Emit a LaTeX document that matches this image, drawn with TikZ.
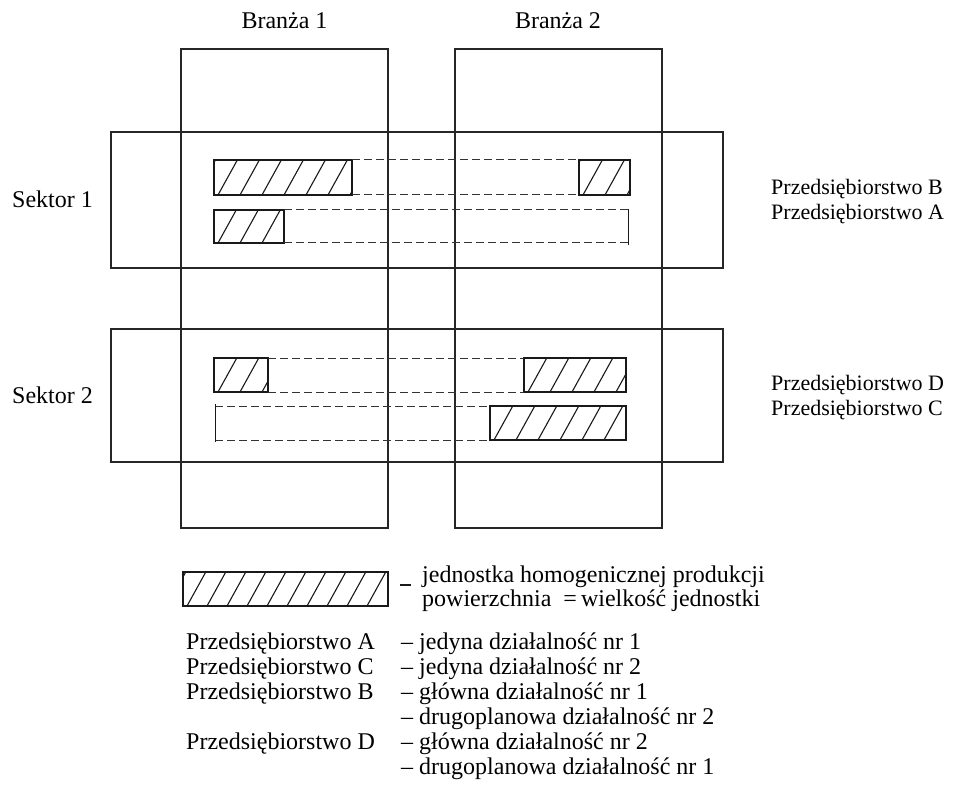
\documentclass[tikz,border=0pt]{standalone}
\usepackage{fontspec}
\setmainfont{Liberation Serif}
\begin{document}
\begin{tikzpicture}[x=1pt,y=-1pt,
  frame/.style={draw=black!85, line width=1.1pt},
  boxline/.style={draw=black!90, line width=1.3pt},
  hatchline/.style={draw=black!90, line width=1.1pt},
  dashline/.style={draw=black!80, line width=1pt, dash pattern=on 8pt off 4pt},
  lbl/.style={inner sep=0pt, font=\fontsize{24}{28}\selectfont, text=black},
  rlbl/.style={inner sep=0pt, font=\fontsize{22}{26}\selectfont, text=black},
]
\useasboundingbox (0,0) rectangle (955,791);
\newcommand{\hatchrect}[5]{%
  \begin{scope}
    \clip (#1,#2) rectangle (#3,#4);
    \foreach \k in {-1,...,12} {\draw[hatchline] ({#1+4+\k*#5},#4) -- ++(21,-38);}
  \end{scope}
  \draw[boxline] (#1,#2) rectangle (#3,#4);}

% columns and rows
\draw[frame] (181,49) rectangle (388,528);
\draw[frame] (455,49) rectangle (662,528);
\draw[frame] (111,132) rectangle (723,268);
\draw[frame] (111,329) rectangle (723,462);

% headings
\node[lbl, anchor=base] (b1) at (284.5,29) {Branża 1};
\node[lbl, anchor=base] (b2) at (558,29) {Branża 2};
\node[lbl, anchor=base west] (s1) at (12,208) {Sektor 1};
\node[lbl, anchor=base west] (s2) at (12,403) {Sektor 2};
\node[rlbl, anchor=base west] (pB) at (771,195) {Przedsiębiorstwo B};
\node[rlbl, anchor=base west] (pA) at (771,220) {Przedsiębiorstwo A};
\node[rlbl, anchor=base west] (pD) at (771,390) {Przedsiębiorstwo D};
\node[rlbl, anchor=base west] (pC) at (771,415) {Przedsiębiorstwo C};

% Sektor 1 : B
\hatchrect{214}{160}{352}{195}{22}
\hatchrect{579}{160}{630}{195}{22}
\draw[dashline] (352,160) -- (579,160);
\draw[dashline] (352,195) -- (579,195);
% Sektor 1 : A
\hatchrect{214}{210}{284}{243}{22}
\draw[dashline] (284,210) -- (628,210);
\draw[dashline] (284,243) -- (628,243);
\draw[boxline, line width=1pt] (628,209) -- (628,245);

% Sektor 2 : D
\hatchrect{214}{358}{268}{392}{22}
\hatchrect{524}{358}{626}{392}{22}
\draw[dashline] (268,358) -- (524,358);
\draw[dashline] (268,392) -- (524,392);
% Sektor 2 : C
\hatchrect{490}{406}{626}{440}{22}
\draw[dashline] (215,406) -- (490,406);
\draw[dashline] (215,440) -- (490,440);
\draw[boxline, line width=1pt] (215,404) -- (215,442);

% legend
\hatchrect{183}{572}{388}{606}{20}
\draw[boxline, line width=1.4pt] (400,585) -- (411,585);
\node[lbl, anchor=base west] (l1) at (422,582) {jednostka homogenicznej produkcji};
\node[lbl, anchor=base west] (l2) at (422,606) {powierzchnia\ \ =\,wielkość jednostki};

\node[lbl, anchor=base west] (eA) at (186,649) {Przedsiębiorstwo A};
\node[lbl, anchor=base west] (eC) at (186,674) {Przedsiębiorstwo C};
\node[lbl, anchor=base west] (eB) at (186,699) {Przedsiębiorstwo B};
\node[lbl, anchor=base west] (eD) at (186,749) {Przedsiębiorstwo D};

\node[lbl, anchor=base west] (tA) at (401,649) {–\ jedyna działalność nr 1};
\node[lbl, anchor=base west] (tC) at (401,674) {–\ jedyna działalność nr 2};
\node[lbl, anchor=base west] (tB1) at (401,699) {–\ główna działalność nr 1};
\node[lbl, anchor=base west] (tB2) at (401,724) {–\ drugoplanowa działalność nr 2};
\node[lbl, anchor=base west] (tD1) at (401,749) {–\ główna działalność nr 2};
\node[lbl, anchor=base west] (tD2) at (401,774) {–\ drugoplanowa działalność nr 1};
\end{tikzpicture}
\end{document}
